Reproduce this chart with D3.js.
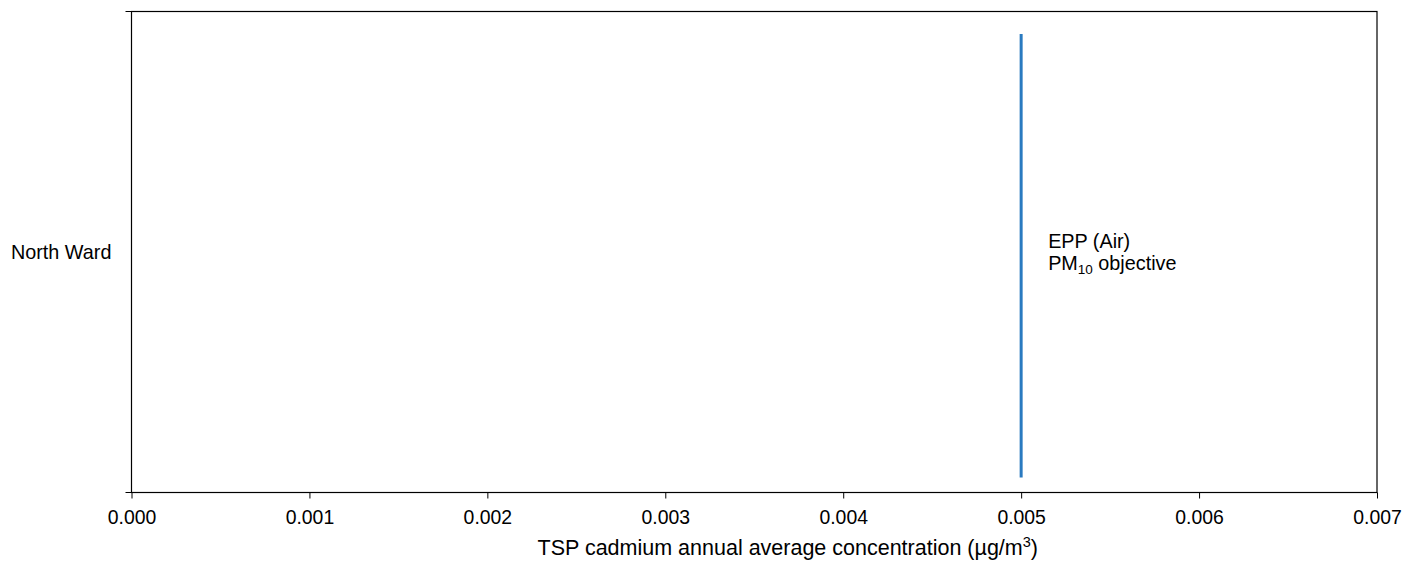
<!DOCTYPE html>
<html lang="en">
<head>
    <meta charset="UTF-8">
    <title>TSP cadmium annual average</title>
    <script src="https://d3js.org/d3.v7.min.js"></script>
    <style>
        body { margin: 0; background: #fff; font-family: "Liberation Sans", Arial, sans-serif; }
        svg { display: block; }
        .tick text { font-size: 19.4px; fill: #000; font-family: "Liberation Sans", Arial, sans-serif; }
        .label { font-size: 19.8px; fill: #000; }
        .title { font-size: 21.5px; fill: #000; }
    </style>
</head>
<body>
    <svg id="chart"></svg>
    <script>
        // data
        const sites = ["North Ward"];
        const xTicks = [0, 0.001, 0.002, 0.003, 0.004, 0.005, 0.006, 0.007];
        const objectiveValue = 0.005;
        const objectiveLines = ["EPP (Air)", "PM", "10", " objective"];

        const width = 1403, height = 565;
        const margin = { top: 11.5, right: 26, bottom: 72.5, left: 131.5 };

        const svg = d3.select("#chart").attr("width", width).attr("height", height);

        const x = d3.scaleLinear().domain([0, 0.007]).range([margin.left, width - margin.right]);
        const y = d3.scaleBand().domain(sites).range([margin.top, height - margin.bottom]);

        // frame
        svg.append("rect")
            .attr("x", x(0)).attr("y", margin.top)
            .attr("width", x(0.007) - x(0)).attr("height", height - margin.bottom - margin.top)
            .attr("fill", "none").attr("stroke", "#000").attr("stroke-width", 1.2);

        // x axis
        const xAxis = svg.append("g")
            .attr("transform", `translate(0,${height - margin.bottom})`)
            .call(d3.axisBottom(x).tickValues(xTicks).tickFormat(d3.format(".3f")).tickSize(6).tickPadding(12));
        xAxis.select(".domain").remove();
        xAxis.selectAll(".tick line").attr("stroke", "#000");

        // y axis: ticks at band edges, label centered
        const yEdges = [margin.top, height - margin.bottom];
        svg.selectAll(".ytick").data(yEdges).enter().append("line")
            .attr("x1", margin.left - 6).attr("x2", margin.left)
            .attr("y1", d => d).attr("y2", d => d)
            .attr("stroke", "#000");
        svg.selectAll(".ylab").data(sites).enter().append("text")
            .attr("class", "label")
            .attr("x", 11)
            .attr("y", d => y(d) + y.bandwidth() / 2)
            .attr("dy", "0.35em")
            .text(d => d);

        // objective line
        const bw = y.bandwidth();
        svg.append("line")
            .attr("x1", x(objectiveValue)).attr("x2", x(objectiveValue))
            .attr("y1", y(sites[0]) + bw * 0.047)
            .attr("y2", y(sites[0]) + bw * 0.969)
            .attr("stroke", "#2a7ac0").attr("stroke-width", 3);

        const lab = svg.append("text").attr("class", "label")
            .attr("x", x(objectiveValue) + 27).attr("y", 248);
        lab.append("tspan").text(objectiveLines[0]);
        const l2 = svg.append("text").attr("class", "label")
            .attr("x", x(objectiveValue) + 27).attr("y", 270);
        l2.append("tspan").text(objectiveLines[1]);
        l2.append("tspan").attr("font-size", "13.5px").attr("dy", 4).text(objectiveLines[2]);
        l2.append("tspan").attr("dy", -4).text(objectiveLines[3]);

        // x title
        const t = svg.append("text").attr("class", "title")
            .attr("x", 1038).attr("y", 555)
            .attr("text-anchor", "end");
        t.append("tspan").text("TSP cadmium annual average concentration (µg/m");
        t.append("tspan").attr("font-size", "14.5px").attr("dy", -8).text("3");
        t.append("tspan").attr("dy", 8).text(")");
    </script>
</body>
</html>
